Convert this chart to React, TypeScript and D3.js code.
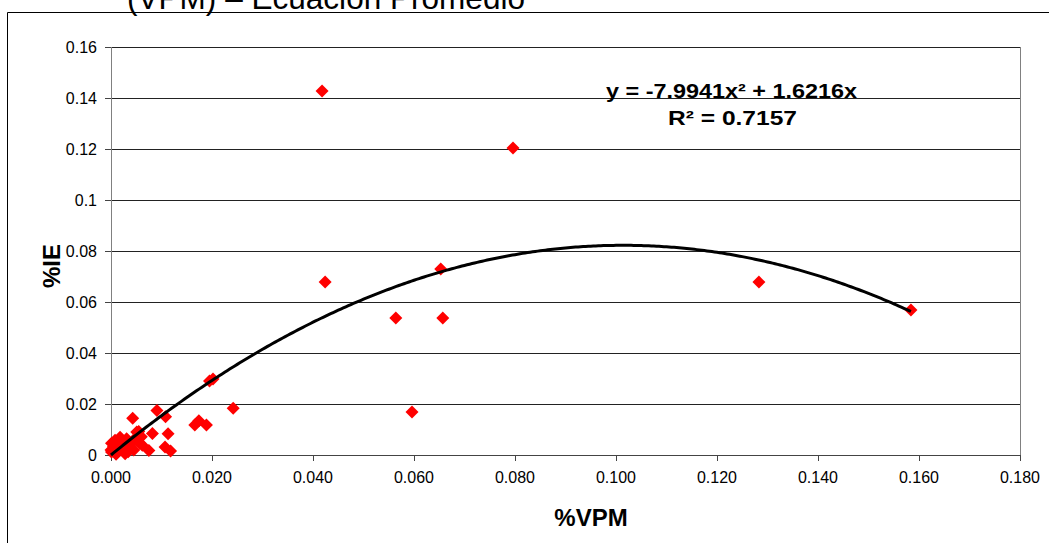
import React from "react";
import * as d3 from "d3";

const W = 1049;
const H = 543;

const xTicks = [0, 0.02, 0.04, 0.06, 0.08, 0.1, 0.12, 0.14, 0.16, 0.18];
const yTicks = [0, 0.02, 0.04, 0.06, 0.08, 0.1, 0.12, 0.14, 0.16];
const yTickLabels = ["0", "0.02", "0.04", "0.06", "0.08", "0.1", "0.12", "0.14", "0.16"];

const vpm = [
  0.0418, 0.0796, 0.0424, 0.0653, 0.0564, 0.0657, 0.0596, 0.1283, 0.1584,
  0.0195, 0.0202, 0.0242, 0.0166, 0.0174, 0.0189, 0.0043, 0.0091, 0.0108,
  0.0055, 0.0082, 0.0113, 0.0075, 0.0107, 0.0118,
  0.0, 0.0008, 0.0018, 0.0031, 0.0044, 0.0057, 0.006, 0.0051, 0.0005, 0.0001,
  0.0024, 0.0038, 0.0014, 0.0034, 0.0001, 0.002, 0.0045, 0.001, 0.0028, 0.004, 0.0062,
];
const ie = [
  0.1427, 0.1204, 0.0678, 0.0729, 0.0537, 0.0537, 0.0169, 0.0678, 0.0569,
  0.029, 0.0298, 0.0183, 0.0118, 0.0134, 0.0118, 0.0144, 0.0175, 0.015,
  0.0092, 0.0084, 0.0083, 0.0018, 0.0031, 0.0016,
  0.002, 0.0058, 0.007, 0.0064, 0.0058, 0.0046, 0.0072, 0.009, 0.0033, 0.0012,
  0.0026, 0.0033, 0.0013, 0.0013, 0.0046, 0.0045, 0.002, 0.0003, 0.0005, 0.0048, 0.0038,
];

const coefA = -7.9941;
const coefB = 1.6216;
const trendX = d3.range(0, 0.1585, 0.0005).concat([0.1584]);

const PL = 111, PR = 1020, PT = 47, PB = 455;

export default function App() {
  const x = d3.scaleLinear().domain([0, 0.18]).range([PL, PR]);
  const y = d3.scaleLinear().domain([0, 0.16]).range([PB, PT]);
  const line = d3
    .line<number>()
    .x((d) => x(d))
    .y((d) => y(coefA * d * d + coefB * d));
  const diamond = (cx: number, cy: number) => {
    const r = 6.5;
    return `M${cx},${cy - r}L${cx + r},${cy}L${cx},${cy + r}L${cx - r},${cy}Z`;
  };
  return (
    <svg
      width={W}
      height={H}
      style={{ position: "absolute", left: 0, top: 0, background: "#fff" }}
      fontFamily="Arial, 'Liberation Sans', sans-serif"
    >
      <rect x={0} y={0} width={W} height={H} fill="#fff" />
      {/* title (cut off at the top, as in the reference) */}
      <text x={127} y={9} fontSize={32} fill="#000" textLength={398} lengthAdjust="spacingAndGlyphs">
        (VPM) – Ecuación Promedio
      </text>
      {/* chart frame */}
      <path d={`M7.5,${H + 2}V12.5H${W + 2}`} fill="none" stroke="#000" strokeWidth={1} />
      {/* gridlines */}
      {yTicks.map((t) => (
        <line
          key={"g" + t}
          x1={PL}
          x2={PR}
          y1={Math.round(y(t)) + 0.5}
          y2={Math.round(y(t)) + 0.5}
          stroke="#222"
          strokeWidth={1}
        />
      ))}
      {/* plot border right */}
      <line x1={PR + 0.5} x2={PR + 0.5} y1={PT} y2={PB} stroke="#808080" strokeWidth={1} />
      {/* axes */}
      <line x1={PL + 0.5} x2={PL + 0.5} y1={PT} y2={PB + 0.5} stroke="#808080" strokeWidth={1} />
      <line x1={PL} x2={PR + 1} y1={PB + 0.5} y2={PB + 0.5} stroke="#444" strokeWidth={1} />
      {yTicks.map((t, i) => (
        <g key={"yt" + t}>
          <line
            x1={PL - 6}
            x2={PL}
            y1={Math.round(y(t)) + 0.5}
            y2={Math.round(y(t)) + 0.5}
            stroke="#444"
          />
          <text x={97} y={y(t)} dy="0.35em" textAnchor="end" fontSize={16} fill="#000">
            {yTickLabels[i]}
          </text>
        </g>
      ))}
      {xTicks.map((t) => (
        <g key={"xt" + t}>
          <line
            x1={Math.round(x(t)) + 0.5}
            x2={Math.round(x(t)) + 0.5}
            y1={PB}
            y2={PB + 6}
            stroke="#444"
          />
          <text x={x(t)} y={483} textAnchor="middle" fontSize={16} fill="#000">
            {d3.format(".3f")(t)}
          </text>
        </g>
      ))}
      {/* axis titles */}
      <text x={591} y={526} textAnchor="middle" fontSize={24} fontWeight="bold" fill="#000">
        %VPM
      </text>
      <text
        transform={`translate(60,266) rotate(-90)`}
        textAnchor="middle"
        fontSize={24}
        fontWeight="bold"
        fill="#000"
      >
        %IE
      </text>
      {/* points */}
      {vpm.map((v, i) => (
        <path key={"p" + i} d={diamond(x(v), y(ie[i]))} fill="#ff0000" />
      ))}
      {/* trendline */}
      <path d={line(trendX) || ""} fill="none" stroke="#000" strokeWidth={3} />
      {/* equation */}
      <text
        x={606}
        y={98}
        fontSize={21}
        fontWeight="bold"
        fill="#000"
        textLength={251}
        lengthAdjust="spacingAndGlyphs"
      >
        y = -7.9941x² + 1.6216x
      </text>
      <text
        x={668}
        y={125}
        fontSize={21}
        fontWeight="bold"
        fill="#000"
        textLength={129}
        lengthAdjust="spacingAndGlyphs"
      >
        R² = 0.7157
      </text>
    </svg>
  );
}
